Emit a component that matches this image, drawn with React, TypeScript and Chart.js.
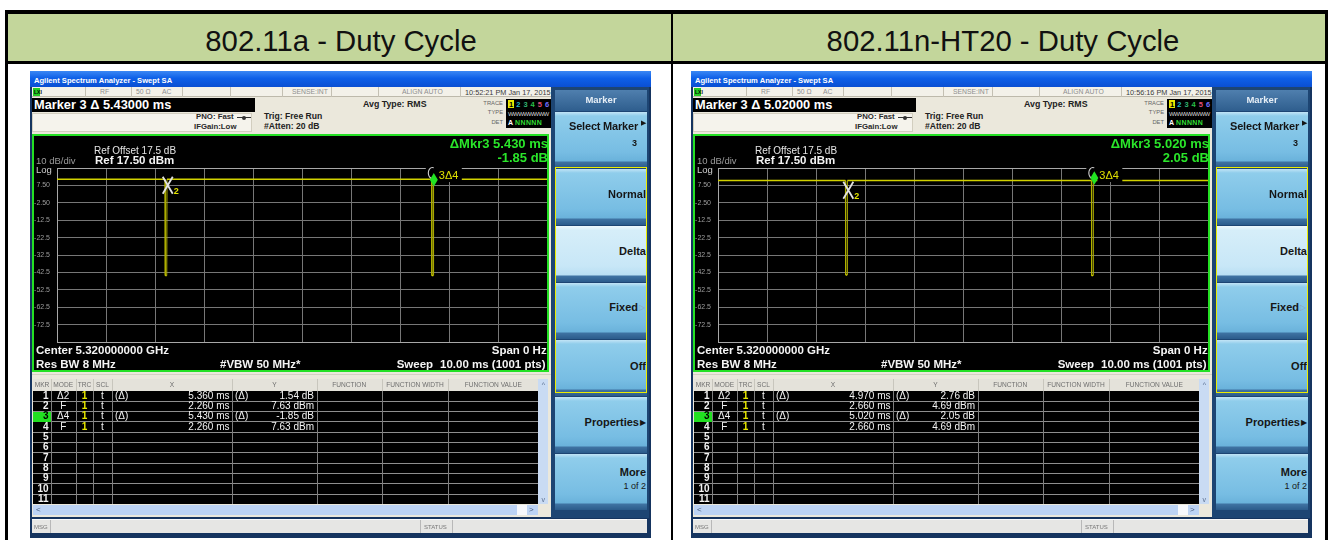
import React, { useEffect, useRef } from 'react';
import { Chart, registerables } from 'chart.js';

Chart.register(...registerables);

const FONT = '"Liberation Sans", Arial, sans-serif';

// ---------- data ----------
const HEADERS = ['802.11a - Duty Cycle', '802.11n-HT20 - Duty Cycle'];
const CLOCK = ['10:52:21 PM Jan 17, 2015', '10:56:16 PM Jan 17, 2015'];
const MARKER_READOUT = ['Marker 3 \u0394 5.43000 ms', 'Marker 3 \u0394 5.02000 ms'];
const DMKR_TIME = ['\u0394Mkr3 5.430 ms', '\u0394Mkr3 5.020 ms'];
const DMKR_LEVEL = ['-1.85 dB', '2.05 dB'];

// trace breakpoints: time (ms) and level (dBm)
const TRACE_A_MS = [0, 2.205, 2.21, 2.24, 2.245, 7.645, 7.65, 7.68, 7.685, 10];
const TRACE_A_DBM = [11.0, 11.0, -44.3, -44.3, 11.0, 11.0, -44.3, -44.3, 11.0, 11.0];
const TRACE_B_MS = [0, 2.6, 2.605, 2.635, 2.64, 7.62, 7.625, 7.655, 7.66, 10];
const TRACE_B_DBM = [10.3, 10.3, -44.0, -44.0, 10.3, 10.3, -44.3, -44.3, 10.3, 10.3];

const FIXED_MKR_MS = [2.26, 2.66];
const FIXED_MKR_DBM = [7.63, 4.69];
const DELTA_MKR_MS = [5.43, 5.02];
const DELTA_MKR_DB = [-1.85, 2.05];

const X_TICKS = [0, 1, 2, 3, 4, 5, 6, 7, 8, 9, 10];
const Y_TICKS = [-82.5, -72.5, -62.5, -52.5, -42.5, -32.5, -22.5, -12.5, -2.5, 7.5, 17.5];
const Y_TICK_LABELS = ['', '-72.5', '-62.5', '-52.5', '-42.5', '-32.5', '-22.5', '-12.5', '-2.50', '7.50', ''];

const MKR_NUM = ['1', '2', '3', '4', '5', '6', '7', '8', '9', '10', '11'];
const MKR_MODE = ['\u03942', 'F', '\u03944', 'F'];
const MKR_TRC = ['1', '1', '1', '1'];
const MKR_SCL = ['t', 't', 't', 't'];
const MKR_FLAG = ['(\u0394)', '', '(\u0394)', ''];
const MKR_X_A = ['5.360 ms', '2.260 ms', '5.430 ms', '2.260 ms'];
const MKR_Y_A = ['1.54 dB', '7.63 dBm', '-1.85 dB', '7.63 dBm'];
const MKR_X_B = ['4.970 ms', '2.660 ms', '5.020 ms', '2.660 ms'];
const MKR_Y_B = ['2.76 dB', '4.69 dBm', '2.05 dB', '4.69 dBm'];
const TABLE_HEADS = ['MKR', 'MODE', 'TRC', 'SCL', 'X', 'Y', 'FUNCTION', 'FUNCTION WIDTH', 'FUNCTION VALUE'];

// ---------- layout constants ----------
const PANEL_LEFT = [30, 691];
const COLS = [3.3, 20.7, 45.7, 63.3, 81.7, 202.3, 286.7, 351.7, 418.3, 508.3];
const ROW_TOP = 319.7;
const ROW_H = 10.33;
const STATUS_SEPS = [55, 101, 152, 200, 252, 301, 348, 430];

type TxtProps = { x: number; y: number; s: number; t: React.ReactNode; c?: string; b?: boolean; a?: 'left' | 'right' | 'center'; ls?: number };
function Txt({ x, y, s, t, c = '#fff', b = false, a = 'left', ls }: TxtProps) {
  const tr = a === 'right' ? 'translateX(-100%)' : a === 'center' ? 'translateX(-50%)' : undefined;
  return (
    <div style={{ position: 'absolute', left: x, top: y - 0.8465 * s, fontSize: s, lineHeight: `${s}px`, height: s, fontFamily: FONT, fontWeight: b ? 700 : 400, color: c, whiteSpace: 'nowrap', transform: tr, letterSpacing: ls }}>{t}</div>
  );
}

function Box({ x, y, w, h, bg, style }: { x: number; y: number; w: number; h: number; bg?: string; style?: React.CSSProperties }) {
  return <div style={{ position: 'absolute', left: x, top: y, width: w, height: h, background: bg, boxSizing: 'border-box', ...style }} />;
}

function Plot({ idx }: { idx: number }) {
  const ref = useRef<HTMLCanvasElement>(null);
  useEffect(() => {
    const canvas = ref.current;
    if (!canvas) return;
    const xs = idx === 0 ? TRACE_A_MS : TRACE_B_MS;
    const ys = idx === 0 ? TRACE_A_DBM : TRACE_B_DBM;
    const fMs = FIXED_MKR_MS[idx];
    const fDb = FIXED_MKR_DBM[idx];
    const dMs = fMs + DELTA_MKR_MS[idx];
    const dDb = fDb + DELTA_MKR_DB[idx];
    const markerPlugin = {
      id: 'markers',
      afterDatasetsDraw(chart: any) {
        const { ctx, chartArea, scales } = chart;
        const sx = scales.x;
        const sy = scales.y;
        const top = chartArea.top;
        const mx = sx.getPixelForValue(fMs);
        const my = sy.getPixelForValue(fDb);
        const dx = sx.getPixelForValue(dMs);
        const dy = sy.getPixelForValue(dDb);
        ctx.save();
        ctx.fillStyle = '#000';
        ctx.fillRect(dx - 8, top - 2, 12, 4);
        ctx.fillRect(dx + 3, top - 2, 25, 16);
        ctx.strokeStyle = '#d0d0d0';
        ctx.lineWidth = 1.1;
        ctx.beginPath();
        ctx.ellipse(dx - 1.5, top + 5, 4, 5.5, 0, Math.PI * 0.5, Math.PI * 1.62);
        ctx.stroke();
        ctx.fillStyle = '#22e422';
        ctx.beginPath();
        ctx.moveTo(dx, dy - 15.5);
        ctx.lineTo(dx + 4, dy - 8.75);
        ctx.lineTo(dx, dy - 2);
        ctx.lineTo(dx - 4, dy - 8.75);
        ctx.closePath();
        ctx.fill();
        ctx.fillStyle = '#e0e000';
        ctx.font = `11px ${FONT}`;
        ctx.textAlign = 'left';
        ctx.textBaseline = 'alphabetic';
        ctx.fillText('3\u03944', dx + 5, top + 11);
        ctx.strokeStyle = '#e2e2e2';
        ctx.lineWidth = 1.8;
        ctx.beginPath();
        ctx.moveTo(mx - 5, my - 8.5);
        ctx.lineTo(mx + 5, my + 8.5);
        ctx.moveTo(mx + 5, my - 8.5);
        ctx.lineTo(mx - 5, my + 8.5);
        ctx.stroke();
        ctx.fillStyle = '#e4e400';
        ctx.font = `bold 9px ${FONT}`;
        ctx.fillText('2', mx + 6, my + 8.5);
        ctx.restore();
      },
    };
    const chart = new Chart(canvas, {
      type: 'line',
      data: {
        datasets: [
          {
            data: xs.map((x, i) => ({ x, y: ys[i] })),
            borderColor: '#d2d200',
            borderWidth: 1.5,
            pointRadius: 0,
            tension: 0,
            segment: {
              borderColor: (c: any) => (Math.abs(c.p0.parsed.y - c.p1.parsed.y) > 1 ? '#b0b000' : '#d2d200'),
              borderWidth: (c: any) => (Math.abs(c.p0.parsed.y - c.p1.parsed.y) > 1 ? 1 : 1.5),
            },
          } as any,
        ],
      },
      options: {
        animation: false,
        responsive: false,
        maintainAspectRatio: false,
        devicePixelRatio: 1,
        layout: { padding: { top: 32, bottom: 28, left: 0, right: 0 } },
        plugins: { legend: { display: false }, tooltip: { enabled: false } },
        scales: {
          x: {
            type: 'linear',
            min: 0,
            max: 10,
            afterBuildTicks: (s: any) => {
              s.ticks = X_TICKS.map((v) => ({ value: v }));
            },
            afterFit: (s: any) => {
              s.height = 0;
            },
            ticks: { display: false },
            grid: { color: '#777777', drawTicks: false, lineWidth: 1 },
            border: { display: true, color: '#a8a8a8', width: 1 },
          },
          y: {
            type: 'linear',
            min: -82.5,
            max: 17.5,
            afterBuildTicks: (s: any) => {
              s.ticks = Y_TICKS.map((v) => ({ value: v }));
            },
            afterFit: (s: any) => {
              s.width = 23;
            },
            ticks: {
              color: '#9c9c9c',
              padding: 7,
              font: { family: 'Liberation Sans', size: 7 },
              callback: (v: any) => {
                const k = Y_TICKS.indexOf(Number(v));
                return k >= 0 ? Y_TICK_LABELS[k] : '';
              },
            },
            grid: {
              drawTicks: false,
              lineWidth: 1,
              color: (c: any) => (c.tick && c.tick.value === 17.5 ? '#a8a8a8' : '#777777'),
            },
            border: { display: true, color: '#a8a8a8', width: 1 },
          },
        },
      } as any,
      plugins: [markerPlugin],
    });
    return () => chart.destroy();
  }, [idx]);
  return <canvas ref={ref} width={513} height={234} style={{ position: 'absolute', left: 4, top: 65, width: 513, height: 234, background: '#000' }} />;
}

const KEY_TOPS = [41, 98, 155, 212, 269, 326, 383];

function SoftKeys() {
  const grad = 'linear-gradient(to bottom, #c2e4f6 0px, #8fcdeb 4px, #77bde3 40px, #6ab2db 49px, #3f73a3 50px, #2b5b8b 56px)';
  const gradLight = 'linear-gradient(to bottom, #eef8fd 0px, #d6eef9 4px, #c8e7f7 40px, #b9dff3 49px, #3f73a3 50px, #2b5b8b 56px)';
  const dark = '#161616';
  return (
    <>
      <Box x={521} y={16} w={98} h={431} bg="#1d4573" />
      <Box x={525} y={19} w={92} h={21} bg="linear-gradient(#4f7fae, #2f5e8e)" />
      <Txt x={571} y={32.3} s={9.5} b c="#e6eef6" a="center" t="Marker" />
      {KEY_TOPS.map((t, k) => (
        <Box key={k} x={525} y={t} w={92} h={56} bg={k === 2 ? gradLight : grad} />
      ))}
      <Txt x={608} y={59} s={11} b c={dark} a="right" t="Select Marker" ls={-0.2} />
      <Txt x={611} y={54} s={7} c={dark} t={'\u25B6'} />
      <Txt x={607} y={75.7} s={9} b c={dark} a="right" t="3" />
      <Txt x={616} y={127} s={11} b c={dark} a="right" t="Normal" />
      <Txt x={616} y={184} s={11} b c={dark} a="right" t="Delta" />
      <Txt x={608} y={240.7} s={11} b c={dark} a="right" t="Fixed" />
      <Txt x={609} y={240} s={8} c="#8aa4b8" t={'\u25B7'} />
      <Txt x={616} y={299} s={11} b c={dark} a="right" t="Off" />
      <Txt x={609} y={355.7} s={11} b c={dark} a="right" t="Properties" />
      <Txt x={610} y={355} s={8} c={dark} t={'\u25B6'} />
      <Txt x={616} y={405.7} s={11} b c={dark} a="right" t="More" />
      <Txt x={616} y={419} s={9} c={dark} a="right" t="1 of 2" />
      <Box x={525} y={96} w={92} h={226} style={{ border: '1px solid #eded00' }} />
    </>
  );
}

function MarkerTable({ i }: { i: number }) {
  const X = i === 0 ? MKR_X_A : MKR_X_B;
  const Y = i === 0 ? MKR_Y_A : MKR_Y_B;
  const rowsBottom = ROW_TOP + ROW_H * 11;
  const heads = TABLE_HEADS.map((h, k) => (
    <Txt key={'h' + k} x={(COLS[k] + COLS[k + 1]) / 2} y={316.5} s={6.6} c="#6e6e6e" a="center" t={h} />
  ));
  return (
    <>
      <Box x={3.3} y={308} w={515} h={11.7} bg="#e4e2da" />
      {COLS.slice(1, 9).map((c, k) => (
        <Box key={'hs' + k} x={c} y={308} w={1} h={11.7} bg="#c8c6bd" />
      ))}
      {heads}
      <Box x={3.3} y={ROW_TOP} w={505} h={rowsBottom - ROW_TOP} bg="#000" />
      {MKR_NUM.slice(1).map((_, k) => (
        <Box key={'rl' + k} x={3.3} y={ROW_TOP + ROW_H * (k + 1) - 0.5} w={505} h={1} bg="#8e8e8e" />
      ))}
      {COLS.slice(1, 9).map((c, k) => (
        <Box key={'vl' + k} x={c} y={ROW_TOP} w={1} h={rowsBottom - ROW_TOP} bg="#7e7e7e" />
      ))}
      <Box x={3.3} y={ROW_TOP + ROW_H * 2 + 0.5} w={17.4} h={ROW_H - 0.5} bg="#22e022" />
      {MKR_NUM.map((n, k) => (
        <Txt key={'n' + k} x={18.6} y={ROW_TOP + ROW_H * k + 8.6} s={10} b c={k === 2 ? '#000' : '#f2f2f2'} a="right" t={n} />
      ))}
      {MKR_MODE.map((m, k) => (
        <React.Fragment key={'r' + k}>
          <Txt x={33.2} y={ROW_TOP + ROW_H * k + 8.6} s={10} c="#f2f2f2" a="center" t={m} />
          <Txt x={54.5} y={ROW_TOP + ROW_H * k + 8.6} s={10} b c="#e8e800" a="center" t={MKR_TRC[k]} />
          <Txt x={72.5} y={ROW_TOP + ROW_H * k + 8.6} s={10} c="#f2f2f2" a="center" t={MKR_SCL[k]} />
          <Txt x={85} y={ROW_TOP + ROW_H * k + 8.6} s={10} c="#f2f2f2" t={MKR_FLAG[k]} />
          <Txt x={199.5} y={ROW_TOP + ROW_H * k + 8.6} s={10} c="#f2f2f2" a="right" t={X[k]} />
          <Txt x={205} y={ROW_TOP + ROW_H * k + 8.6} s={10} c="#f2f2f2" t={MKR_FLAG[k]} />
          <Txt x={284} y={ROW_TOP + ROW_H * k + 8.6} s={10} c="#f2f2f2" a="right" t={Y[k]} />
        </React.Fragment>
      ))}
      {/* vertical scrollbar */}
      <Box x={508.3} y={308} w={10} h={rowsBottom - 308} bg="#c9dbf3" />
      <Txt x={513.3} y={316} s={7} c="#5a6f90" a="center" t="^" />
      <Txt x={513.3} y={rowsBottom - 2} s={7} c="#5a6f90" a="center" t="v" />
      {/* horizontal scrollbar */}
      <Box x={3.3} y={434} w={505} h={9.5} bg="#bcd3f4" />
      <Box x={487} y={434} w={10} h={9.5} bg="#f6f8fc" />
      <Txt x={6} y={441.5} s={8} c="#4a5f80" t="<" />
      <Txt x={499} y={441.5} s={8} c="#4a5f80" t=">" />
    </>
  );
}

function Screenshot({ i }: { i: number }) {
  const L = PANEL_LEFT[i];
  const traceColors = ['#000', '#20b8c8', '#30b070', '#28c048', '#e05078', '#7070ff'];
  return (
    <div style={{ position: 'absolute', left: L, top: 71, width: 621, height: 467, background: '#15345f', overflow: 'hidden' }}>
      <Box x={0} y={0} w={621} h={16} bg="linear-gradient(#3b88f4, #0e60e8 45%, #0a4fd2)" />
      <Txt x={4} y={12} s={7.6} b c="#fff" t="Agilent Spectrum Analyzer - Swept SA" />
      {/* beige main area */}
      <Box x={2} y={16} w={519} h={430} bg="#ebe8dc" />
      {/* status row */}
      <Box x={2} y={16} w={519} h={10} bg="#f3f1e9" style={{ borderBottom: '1px solid #bdb9ab' }} />
      {STATUS_SEPS.map((s, k) => (
        <Box key={k} x={s} y={16} w={1} h={10} bg="#c4c0b3" />
      ))}
      <Box x={3} y={17} w={7} h={8} bg="#22cc22" />
      <Txt x={4} y={23.5} s={5} b c="#000" t="LXI" />
      <Txt x={70} y={24} s={6.8} c="#8e8e8e" t="RF" />
      <Txt x={106} y={24} s={6.8} c="#8e8e8e" t={'50 \u03A9'} />
      <Txt x={132} y={24} s={6.8} c="#8e8e8e" t="AC" />
      <Txt x={262} y={24} s={6.8} c="#8e8e8e" t="SENSE:INT" />
      <Txt x={372} y={24} s={6.8} c="#8e8e8e" t="ALIGN AUTO" />
      <Txt x={435} y={24} s={7.3} c="#3c3c3c" t={CLOCK[i]} />
      {/* marker readout */}
      <Box x={2} y={27} w={223} h={14} bg="#000" />
      <Txt x={4} y={39} s={12.8} b c="#fff" t={MARKER_READOUT[i]} />
      <Box x={2} y={42} w={220} h={19} bg="#f5f3ec" style={{ border: '1px solid #d2cebf' }} />
      <Txt x={166} y={49} s={7.8} b c="#2a2a2a" t="PNO: Fast" />
      <Box x={207} y={46} w={14} h={1} bg="#333" />
      <div style={{ position: 'absolute', left: 212, top: 44.5, width: 4, height: 4, borderRadius: 2, background: '#333' }} />
      <Txt x={164} y={59} s={7.8} b c="#2a2a2a" t="IFGain:Low" />
      <Txt x={234} y={48} s={8.6} b c="#222" t="Trig: Free Run" />
      <Txt x={234} y={58} s={8.6} b c="#222" t="#Atten: 20 dB" />
      <Txt x={333} y={36.5} s={8.8} b c="#222" t="Avg Type: RMS" />
      <Txt x={473} y={35} s={5.8} c="#666" a="right" t="TRACE" />
      <Txt x={473} y={44} s={5.8} c="#666" a="right" t="TYPE" />
      <Txt x={473} y={54} s={5.8} c="#666" a="right" t="DET" />
      <Box x={476} y={28} w={45} h={29} bg="#000" />
      <Box x={477.5} y={29} w={6.5} h={8} bg="#e8e800" />
      {traceColors.map((c, k) => (
        <Txt key={k} x={479 + k * 7.2} y={36} s={7.5} b c={c} t={String(k + 1)} />
      ))}
      <Txt x={478} y={45} s={6} c="#d8d8d8" ls={-0.6} t="WWWWWWWW" />
      <Txt x={478} y={54} s={7} b c="#ffffff" t="A" />
      <Txt x={485} y={54} s={7} b c="#33dd33" ls={0.4} t="NNNNN" />
      {/* plot area */}
      <Box x={2} y={63} w={517} h={238} bg="#000" style={{ border: '2px solid #24e024' }} />
      <Plot idx={i} />
      <Txt x={64} y={83.2} s={10} c="#e4e4e4" t="Ref Offset 17.5 dB" />
      <Txt x={65} y={94} s={11.5} b c="#f4f4f4" t="Ref 17.50 dBm" />
      <Txt x={6} y={93.5} s={9.5} c="#9c9c9c" t="10 dB/div" />
      <Txt x={6} y={102} s={9.5} c="#d0d0d0" t="Log" />
      <Txt x={518} y={77.3} s={13} b c="#2ae62a" a="right" t={DMKR_TIME[i]} />
      <Txt x={518} y={90.7} s={13} b c="#2ae62a" a="right" t={DMKR_LEVEL[i]} />
      <Txt x={6} y={284} s={11.5} b c="#f4f4f4" t="Center 5.320000000 GHz" />
      <Txt x={516.7} y={284} s={11.5} b c="#f4f4f4" a="right" t="Span 0 Hz" />
      <Txt x={6} y={297.3} s={11.5} b c="#f4f4f4" t="Res BW 8 MHz" />
      <Txt x={190} y={297.3} s={11.5} b c="#f4f4f4" t="#VBW 50 MHz*" />
      <Txt x={366.7} y={297.3} s={11.5} b c="#f4f4f4" t="Sweep" />
      <Txt x={515.5} y={297.3} s={11.5} b c="#f4f4f4" a="right" t="10.00 ms (1001 pts)" />
      <Box x={2} y={303} w={519} h={1} bg="#d4d0c2" />
      <MarkerTable i={i} />
      <SoftKeys />
      {/* message bar */}
      <Box x={2} y={448} w={615} h={14} bg="#e6e6e4" style={{ borderTop: '1px solid #fafafa' }} />
      <Box x={20} y={449} w={1} h={13} bg="#b8b8b8" />
      <Box x={390} y={449} w={1} h={13} bg="#b8b8b8" />
      <Box x={422} y={449} w={1} h={13} bg="#b8b8b8" />
      <Txt x={4} y={458} s={6} c="#777" t="MSG" />
      <Txt x={394} y={458} s={6} c="#777" t="STATUS" />
    </div>
  );
}

export default function App() {
  return (
    <div style={{ position: 'fixed', left: 0, top: 0, width: 1328, height: 540, background: '#fff', overflow: 'hidden', fontFamily: FONT }}>
      {/* outer table */}
      <Box x={8} y={14} w={663} h={47} bg="#c3d69b" />
      <Box x={673} y={14} w={652} h={47} bg="#c3d69b" />
      <Box x={5} y={10} w={1323} h={4} bg="#000" />
      <Box x={5} y={10} w={3} h={530} bg="#000" />
      <Box x={1325} y={10} w={3} h={530} bg="#000" />
      <Box x={671} y={10} w={2} h={530} bg="#000" />
      <Box x={5} y={61} w={1323} h={2.5} bg="#000" />
      <Txt x={341} y={50.5} s={29.3} c="#111" a="center" t={HEADERS[0]} />
      <Txt x={1003} y={50.5} s={29.3} c="#111" a="center" t={HEADERS[1]} />
      <Screenshot i={0} />
      <Screenshot i={1} />
    </div>
  );
}
